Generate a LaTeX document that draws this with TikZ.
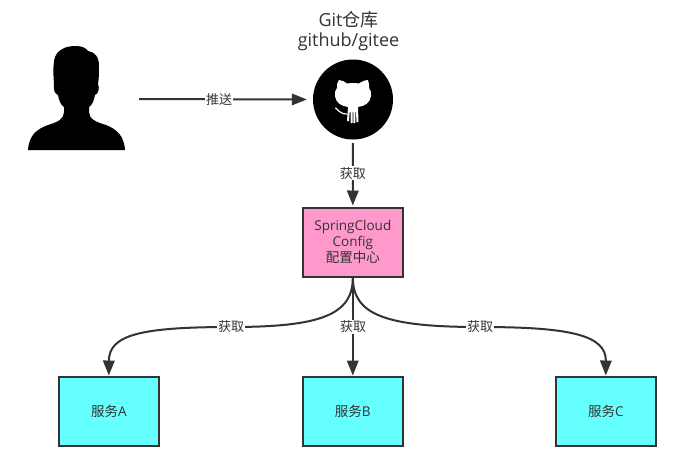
\documentclass[tikz,border=0pt]{standalone}
\usepackage{fontspec}
\setmainfont{Open Sans}
\newfontfamily\cjk{Noto Sans CJK SC}
\usetikzlibrary{arrows.meta}
\definecolor{ink}{HTML}{333333}
\definecolor{pinkfill}{HTML}{FF99CC}
\definecolor{cyanfill}{HTML}{66FFFF}
\tikzset{
  x=1pt,y=-1pt,
  boxnode/.style={draw=ink,line width=2pt,minimum width=100pt,minimum height=69pt,inner sep=0pt,align=center,text=ink,font=\fontsize{13.5}{15.7}\selectfont},
  link/.style={draw=ink,line width=2pt,-{Triangle[length=15pt,width=11.5pt,fill=ink]}},
  linklabel/.style={fill=white,text=ink,inner sep=1pt,font=\cjk\fontsize{13}{15}\selectfont},
}
\begin{document}
\begin{tikzpicture}
\useasboundingbox (0,0) rectangle (676,456);
% person
\node[minimum width=97pt,minimum height=104pt,inner sep=0pt] (person) at (76.5,99) {};
\fill[black] (28,150) .. controls (29,135) and (37,129) .. (48,125)
  .. controls (58,122) and (64,119) .. (64,112) -- (64,107)
  .. controls (60,104) and (59,100) .. (58,95)
  .. controls (55,94) and (53,90) .. (54,84)
  .. controls (53,72) and (53,60) .. (56,55)
  .. controls (60,48) and (68,46) .. (76,46)
  .. controls (82,46) and (86,48) .. (88,51)
  .. controls (95,52) and (99,57) .. (99,66)
  .. controls (99,72) and (99,78) .. (98,84)
  .. controls (100,89) and (98,94) .. (95,95)
  .. controls (94,100) and (93,104) .. (89,107) -- (89,112)
  .. controls (89,119) and (96,122) .. (106,125)
  .. controls (116,129) and (124,135) .. (125,150) -- cycle;
% github
\node[circle,fill=black,minimum size=80pt,inner sep=0pt] (github) at (353,99.5) {};
\fill[white] (339,80) .. controls (342,80) and (345,82) .. (347,83.5)
  .. controls (350,83) and (356,83) .. (359,83.5)
  .. controls (361,82) and (365,80) .. (368,80)
  .. controls (369,83) and (369.5,86) .. (369,88)
  .. controls (371,90) and (371.5,93) .. (371,96)
  .. controls (370,103) and (365,106) .. (358,107)
  -- (358.5,122) -- (356.5,122) -- (356,112) -- (355.3,112) -- (355.3,123) -- (353.3,123)
  -- (353.3,112) -- (352.5,112) -- (352.5,123) -- (350.5,123) -- (350.5,112) -- (349.7,112) -- (349,121) -- (347,121)
  -- (348,107)
  .. controls (341,106) and (336,103) .. (335,96)
  .. controls (334.5,93) and (335,90) .. (337,88)
  .. controls (336.5,86) and (337,83) .. (339,80) -- cycle;
\draw[white,line width=1.2pt,line cap=round] (335.5,108) .. controls (338,109) and (339,114) .. (347,114);
\node[text=ink,align=center,font=\fontsize{18}{20.5}\selectfont,inner sep=0pt] (title) at (348.5,31) {Git{\cjk 仓库}\\github/gitee};
% boxes
\node[boxnode,fill=pinkfill] (config) at (352.8,242) {SpringCloud\\Config\\{\cjk 配置中心}};
\node[boxnode,fill=cyanfill] (svca) at (108.8,411) {{\cjk 服务}A};
\node[boxnode,fill=cyanfill] (svcb) at (352.8,411) {{\cjk 服务}B};
\node[boxnode,fill=cyanfill] (svcc) at (605.8,411) {{\cjk 服务}C};
% connectors
\draw[link,shorten <=14pt,shorten >=6pt] (person.east) -- node[linklabel,pos=.5] (l1) {推送} (github.west);
\draw[link,shorten <=3.5pt,shorten >=1pt] (github.south) -- node[linklabel,pos=.5] (l2) {获取} (config.north);
\coordinate (ma) at (231,327);
\coordinate (mc) at (480,327);
\draw[link] (config.south) .. controls (353,315) and (320,327) .. (ma) .. controls (140,327) and (109,335) .. (svca.north);
\draw[link] (config.south) .. controls (353,315) and (386,327) .. (mc) .. controls (570,327) and (606,335) .. (svcc.north);
\draw[link] (config.south) -- (svcb.north);
\node[linklabel] (la) at (ma) {获取};
\node[linklabel] (lb) at (353,327) {获取};
\node[linklabel] (lc) at (mc) {获取};
\end{tikzpicture}
\end{document}
